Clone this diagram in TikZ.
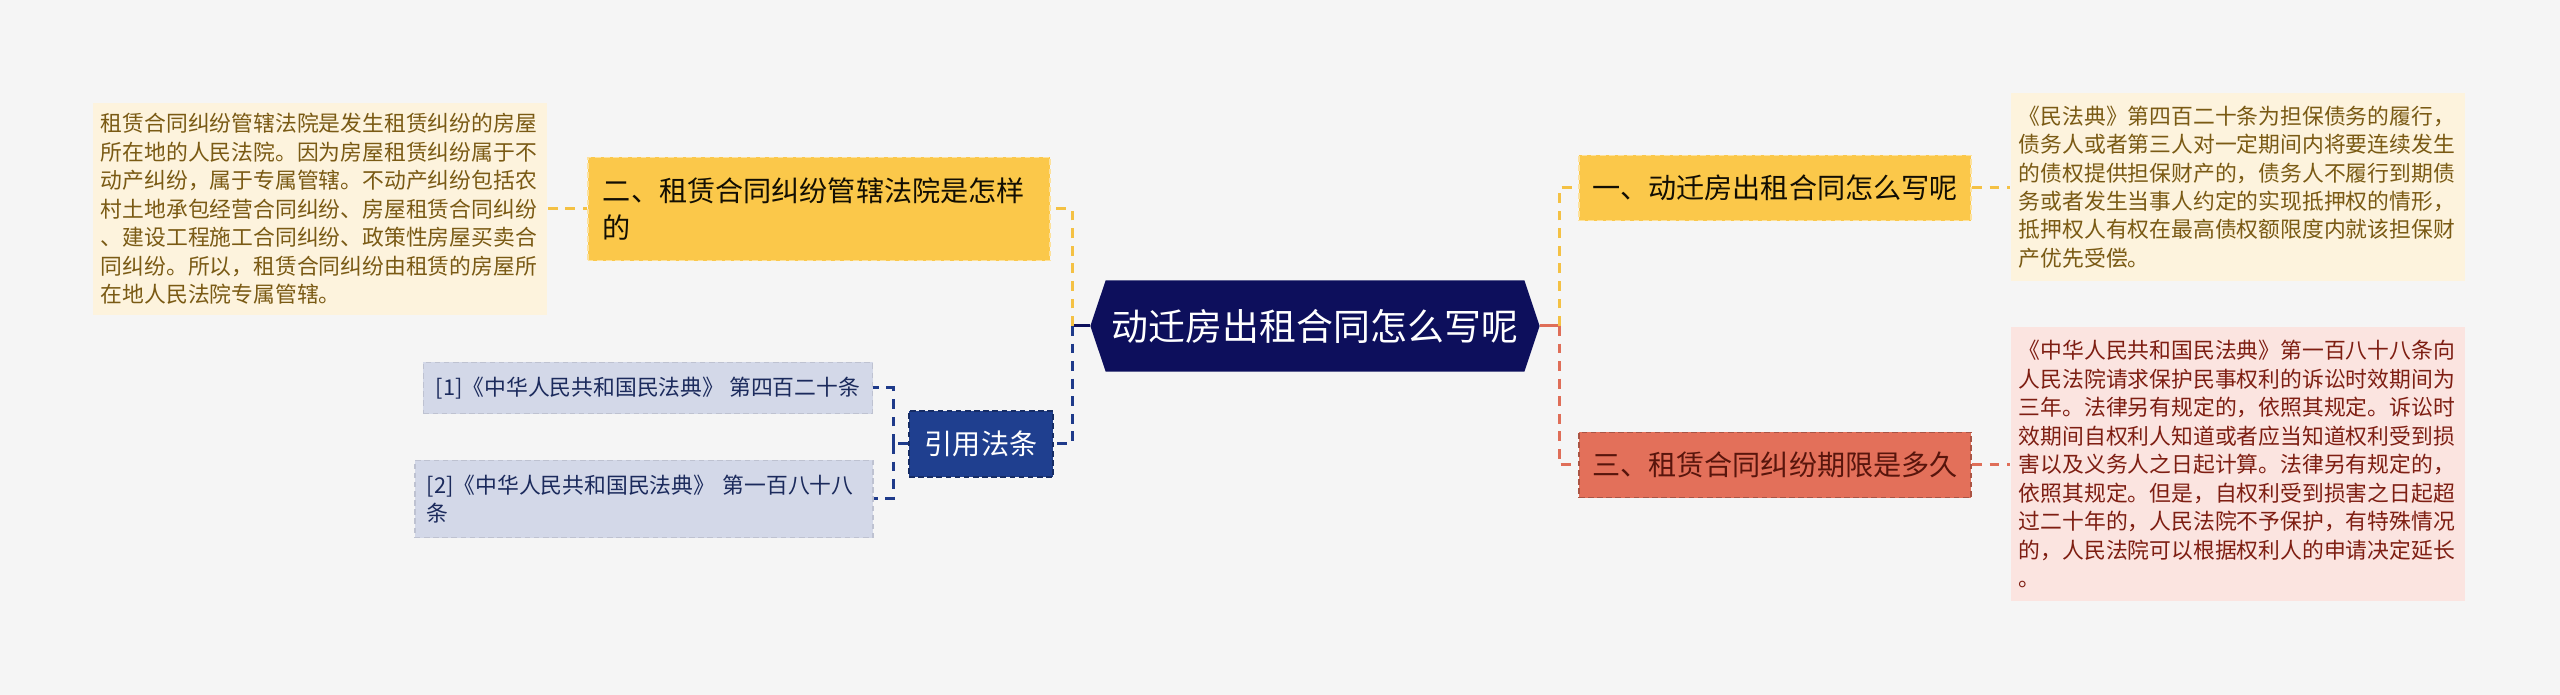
\documentclass[tikz,border=0pt]{standalone}
\usepackage{fontspec}
\setmainfont{Noto Sans CJK SC}
\usetikzlibrary{shapes.symbols}
\definecolor{bgc}{HTML}{F5F5F5}
\definecolor{navy}{HTML}{0D0F5C}
\definecolor{ylw}{HTML}{FBC84A}
\definecolor{ylwline}{HTML}{F4C144}
\definecolor{ylwnote}{HTML}{FDF3DD}
\definecolor{ylwtxt}{HTML}{7A5A14}
\definecolor{rd}{HTML}{E3705A}
\definecolor{rdline}{HTML}{DF6E58}
\definecolor{rdnote}{HTML}{FBE4E0}
\definecolor{rdtxt}{HTML}{7E1E12}
\definecolor{blu}{HTML}{1F3F8F}
\definecolor{bluline}{HTML}{1E3A8A}
\definecolor{refbg}{HTML}{D3D8E8}
\definecolor{reftxt}{HTML}{1B2A5C}

\begin{document}
\begin{tikzpicture}[
  x=0.01cm, y=-0.01cm,
  hub/.style   ={shape=signal, signal to=west and east, signal pointer angle=143,
                 fill=navy, text=white, font=\fontsize{10.5}{12}\selectfont,
                 minimum width=4.49cm, minimum height=0.91cm, inner sep=0pt},
  sub/.style   ={rectangle, inner sep=0pt, line width=0.5pt,
                 dash pattern=on 1.6pt off 1pt, font=\fontsize{8}{10.5}\selectfont},
  subY/.style  ={sub, fill=ylw, draw=ylw!55!white, text=black!85!ylwtxt},
  subR/.style  ={sub, fill=rd, draw=rd!75!black, text=rdtxt!70!black},
  note/.style  ={rectangle, inner sep=0pt, align=left, text width=4.38cm,
                 minimum width=4.54cm, font=\fontsize{6.2}{8.1}\selectfont},
  noteY/.style ={note, fill=ylwnote, text=ylwtxt},
  noteR/.style ={note, fill=rdnote, text=rdtxt},
  citebox/.style={sub, fill=blu, draw=blu!70!black, text=white},
  refbox/.style={rectangle, inner sep=0pt, fill=refbg, draw=refbg!90!black,
                 line width=0.4pt, dash pattern=on 1.6pt off 1pt,
                 text=reftxt, font=\fontsize{6.2}{8.1}\selectfont},
  ln/.style    ={line width=0.85pt, dash pattern=on 2.8pt off 2.2pt},
  lnY/.style   ={ln, draw=ylwline},
  lnR/.style   ={ln, draw=rdline},
  lnB/.style   ={ln, draw=bluline},
  stub/.style  ={line width=0.85pt}]

\fill[bgc] (0,0) rectangle (2560,695);
\useasboundingbox (0,0) rectangle (2560,695);

% centre
\node[hub] (root) at (1315,326) {动迁房出租合同怎么写呢};

% right branches
\node[subY, minimum width=3.92cm, minimum height=0.65cm] (br1) at (1775,188)
  {一、动迁房出租合同怎么写呢};
\node[subR, minimum width=3.92cm, minimum height=0.65cm] (br3) at (1775,465)
  {三、租赁合同纠纷期限是多久};

\node[noteY, minimum height=1.88cm] (txt1) at (2238,187) {%
  《民法典》第四百二十条为担保债务的履行，\\
  债务人或者第三人对一定期间内将要连续发生\\
  的债权提供担保财产的，债务人不履行到期债\\
  务或者发生当事人约定的实现抵押权的情形，\\
  抵押权人有权在最高债权额限度内就该担保财\\
  产优先受偿。};

\node[noteR, minimum height=2.74cm] (txt3) at (2238,464) {%
  《中华人民共和国民法典》第一百八十八条向\\
  人民法院请求保护民事权利的诉讼时效期间为\\
  三年。法律另有规定的，依照其规定。诉讼时\\
  效期间自权利人知道或者应当知道权利受到损\\
  害以及义务人之日起计算。法律另有规定的，\\
  依照其规定。但是，自权利受到损害之日起超\\
  过二十年的，人民法院不予保护，有特殊情况\\
  的，人民法院可以根据权利人的申请决定延长\\
  。};

% left branches
\node[subY, minimum width=4.62cm, minimum height=1.03cm, align=left,
      text width=4.32cm] (br2) at (819,209)
  {二、租赁合同纠纷管辖法院是怎样\\的};

\node[noteY, minimum height=2.12cm] (txt2) at (320,209) {%
  租赁合同纠纷管辖法院是发生租赁纠纷的房屋\\
  所在地的人民法院。因为房屋租赁纠纷属于不\\
  动产纠纷，属于专属管辖。不动产纠纷包括农\\
  村土地承包经营合同纠纷、房屋租赁合同纠纷\\
  、建设工程施工合同纠纷、政策性房屋买卖合\\
  同纠纷。所以，租赁合同纠纷由租赁的房屋所\\
  在地人民法院专属管辖。};

\node[citebox, minimum width=1.44cm, minimum height=0.66cm] (cite) at (981,444)
  {引用法条};

\node[refbox, minimum width=4.49cm, minimum height=0.51cm] (ref1) at (648,388)
  {[1]《中华人民共和国民法典》 第四百二十条};
\node[refbox, minimum width=4.58cm, minimum height=0.77cm, align=left,
      text width=4.34cm] (ref2) at (644,499)
  {[2]《中华人民共和国民法典》 第一百八十八\\条};

% connectors
\coordinate (jL) at (1072,326);
\coordinate (jR) at (1559,326);
\coordinate (jC) at (893,444);

\draw[stub, draw=navy] (root.west) -- (jL);
\draw[lnY] (jL) |- (br2.east);
\draw[lnB] (jL) |- (cite.east);
\draw[stub, draw=rdline] (root.east) -- (jR);
\draw[lnY] (jR) |- (br1.west);
\draw[lnR] (jR) |- (br3.west);

\draw[lnY] (br1.east) -- (txt1.west |- br1.east);
\draw[lnR] (br3.east) -- (txt3.west |- br3.east);
\draw[lnY] (txt2.east |- br2.west) -- (br2.west);

\draw[lnB] (cite.west) -- (jC);
\draw[lnB] (jC) |- (ref1.east);
\draw[lnB] (jC) |- (ref2.east);
\end{tikzpicture}
\end{document}
